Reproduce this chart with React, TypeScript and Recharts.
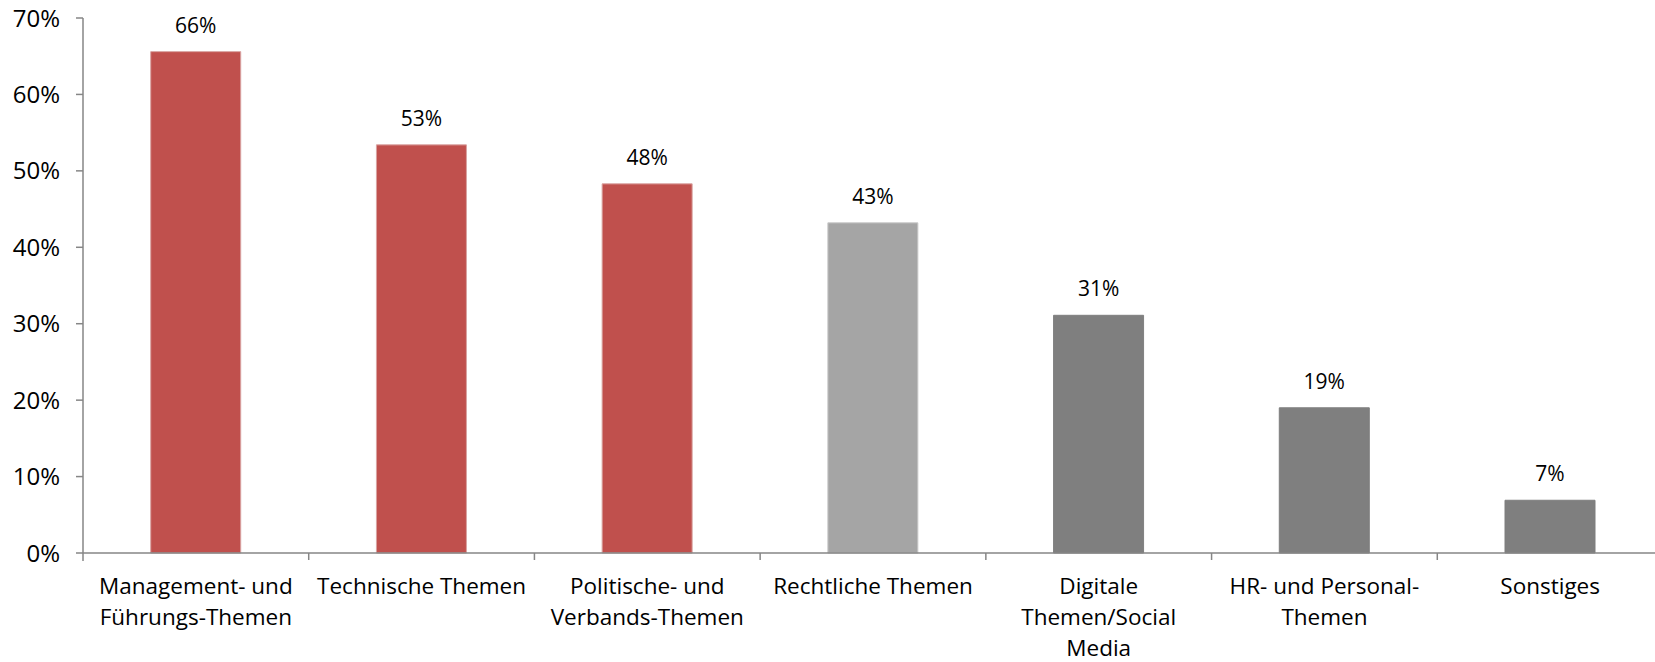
import { Bar, BarChart, Cell, LabelList, XAxis, YAxis } from 'recharts'

const categories = [
  'Management- und\nFührungs-Themen',
  'Technische Themen',
  'Politische- und\nVerbands-Themen',
  'Rechtliche Themen',
  'Digitale\nThemen/Social\nMedia',
  'HR- und Personal-\nThemen',
  'Sonstiges',
]
const shares = [65.6, 53.4, 48.3, 43.2, 31.1, 19.0, 6.9]
const yTicks = [0, 10, 20, 30, 40, 50, 60, 70]

const barColors = ['#C0504D', '#C0504D', '#C0504D', '#A5A5A5', '#7F7F7F', '#7F7F7F', '#7F7F7F']
const barStrokes = ['#D9A3A1', '#D9A3A1', '#D9A3A1', '#C8C8C8', '#7F7F7F', '#7F7F7F', '#7F7F7F']

// plot runs slightly past the right edge of the picture, as in the original
const W = 1663
const H = 662
const LEFT = 83
const BOTTOM = 109
const FONT = '"Open Sans", sans-serif'
const AXIS = '#868686'

const data = categories.map((name, i) => ({ name, value: shares[i] }))
const band = (W - LEFT) / categories.length

function CategoryTick(props: any) {
  const { x, y, payload, index } = props
  const lines = String(payload.value).split('\n')
  return (
    <g>
      {index === 0 && (
        <line x1={x - band / 2} x2={x - band / 2} y1={y} y2={y + 8} stroke={AXIS} strokeWidth={1.5} />
      )}
      {index < categories.length - 1 && (
        <line x1={x + band / 2} x2={x + band / 2} y1={y} y2={y + 7} stroke={AXIS} strokeWidth={1.5} />
      )}
      <text x={x} y={y} textAnchor="middle" fill="#000" fontSize={22.5} fontFamily={FONT}>
        {lines.map((l, i) => (
          <tspan key={i} x={x} dy={i === 0 ? 41 : 31}>
            {l}
          </tspan>
        ))}
      </text>
    </g>
  )
}

export default function App() {
  return (
    <div style={{ position: 'absolute', left: 0, top: 0, width: 1655, height: H, overflow: 'hidden', background: '#fff' }}>
      <BarChart
        width={W}
        height={H}
        data={data}
        margin={{ top: 18, right: 0, bottom: 0, left: 0 }}
        barCategoryGap="30%"
      >
        <XAxis
          dataKey="name"
          interval={0}
          tickSize={0}
          tickMargin={0}
          tickLine={false}
          axisLine={{ stroke: AXIS, strokeWidth: 1.5 }}
          tick={<CategoryTick />}
          height={BOTTOM}
        />
        <YAxis
          width={LEFT}
          domain={[0, 70]}
          ticks={yTicks}
          interval={0}
          tickFormatter={(v) => `${v}%`}
          axisLine={{ stroke: AXIS, strokeWidth: 1.5 }}
          tickLine={{ stroke: AXIS, strokeWidth: 1.5 }}
          tickSize={7}
          tickMargin={16}
          tick={{ fill: '#000', fontSize: 24, fontFamily: FONT }}
        />
        <Bar dataKey="value" isAnimationActive={false}>
          {data.map((d, i) => (
            <Cell key={d.name} fill={barColors[i]} stroke={barStrokes[i]} strokeWidth={1} />
          ))}
          <LabelList
            dataKey="value"
            position="top"
            offset={19}
            formatter={(v: any) => `${Math.round(Number(v))}%`}
            style={{ fill: '#000', fontSize: 21, fontFamily: FONT }}
          />
        </Bar>
      </BarChart>
    </div>
  )
}
